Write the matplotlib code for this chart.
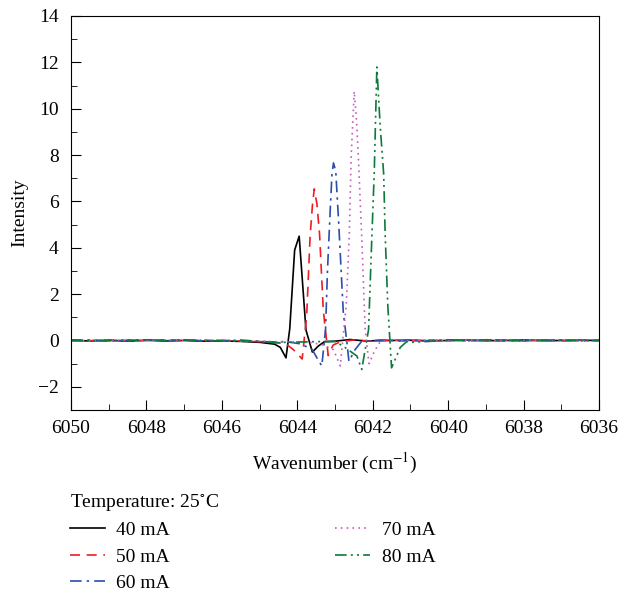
import matplotlib
matplotlib.use('Agg')
import matplotlib.pyplot as plt

# baseline wavenumbers shared by every trace (outside the peak region)
wn_left = [6050.0, 6049.5, 6049.0, 6048.5, 6048.0, 6047.5, 6047.0, 6046.5, 6046.0, 6045.5, 6045.0, 6044.6]
wn_right = [6041.0, 6040.5, 6040.0, 6039.5, 6039.0, 6038.5, 6038.0, 6037.5, 6037.0, 6036.5, 6036.0]

# 40 mA
left_40 = [0.0, -0.02, 0.01, -0.03, 0.01, -0.02, 0.0, -0.03, -0.02, -0.04, -0.08, -0.16]
pk_x_40 = [6044.45, 6044.3, 6044.2, 6044.07, 6043.95, 6043.77, 6043.6, 6043.45, 6043.28, 6043.0, 6042.6, 6042.2, 6041.6]
pk_y_40 = [-0.3, -0.75, 0.5, 3.9, 4.5, 0.45, -0.5, -0.25, -0.05, -0.03, 0.04, -0.02, 0.0]
right_40 = [0.01, -0.02, 0.0, 0.02, -0.01, 0.0, 0.02, -0.01, 0.0, 0.01, 0.0]

# 50 mA
left_50 = [0.02, -0.01, 0.03, -0.02, 0.0, 0.03, -0.01, 0.02, -0.03, -0.02, -0.05, -0.08]
pk_x_50 = [6044.3, 6044.1, 6043.87, 6043.75, 6043.66, 6043.6, 6043.55, 6043.48, 6043.41, 6043.31, 6043.18, 6043.05, 6042.85, 6042.5, 6042.0, 6041.5]
pk_y_50 = [-0.15, -0.4, -0.8, 1.1, 4.5, 5.8, 6.54, 5.9, 4.6, 1.3, -0.65, -0.2, -0.05, 0.02, -0.03, 0.02]
right_50 = [-0.02, 0.02, -0.01, 0.03, 0.0, -0.02, 0.02, 0.0, -0.02, 0.01, 0.0]

# 60 mA
left_60 = [-0.01, 0.02, -0.02, 0.01, 0.03, -0.01, 0.02, -0.02, 0.01, -0.03, -0.04, -0.07]
pk_x_60 = [6044.3, 6043.9, 6043.6, 6043.48, 6043.35, 6043.25, 6043.2, 6043.13, 6043.08, 6043.04, 6042.98, 6042.9, 6042.78, 6042.69, 6042.63, 6042.47, 6042.3, 6041.8, 6041.3]
pk_y_60 = [-0.05, -0.15, -0.4, -0.75, -1.1, 0.5, 3.0, 5.5, 7.2, 7.66, 7.3, 5.0, 1.2, 0.0, -0.9, -0.4, -0.05, 0.02, -0.02]
right_60 = [0.02, -0.01, 0.03, -0.02, 0.01, 0.02, -0.02, 0.01, 0.02, -0.01, 0.0]

# 70 mA
left_70 = [0.01, -0.02, 0.02, 0.0, -0.02, 0.02, 0.01, -0.01, 0.02, -0.02, -0.03, -0.05]
pk_x_70 = [6044.2, 6043.6, 6043.3, 6043.04, 6042.86, 6042.7, 6042.62, 6042.57, 6042.49, 6042.43, 6042.38, 6042.29, 6042.2, 6042.1, 6041.95, 6041.8, 6041.4]
pk_y_70 = [-0.05, -0.1, -0.2, -0.4, -1.1, 1.6, 4.6, 8.0, 10.75, 9.5, 7.9, 4.4, 0.5, -1.0, -0.45, -0.05, 0.03]
right_70 = [-0.03, 0.01, -0.02, 0.02, 0.0, -0.02, 0.01, 0.02, -0.01, 0.0, 0.0]

# 80 mA
left_80 = [0.02, 0.0, -0.02, 0.02, 0.01, -0.01, 0.03, 0.0, -0.02, 0.02, -0.04, -0.1]
pk_x_80 = [6044.3, 6043.5, 6043.0, 6042.78, 6042.42, 6042.29, 6042.11, 6042.02, 6041.96, 6041.89, 6041.8, 6041.71, 6041.67, 6041.6, 6041.5, 6041.27, 6041.1]
pk_y_80 = [-0.08, -0.05, -0.05, -0.25, -0.67, -1.25, 0.47, 4.6, 7.2, 11.8, 9.2, 7.2, 4.6, 1.5, -1.18, -0.3, -0.05]
right_80 = [-0.08, -0.04, 0.02, -0.02, 0.03, 0.0, -0.02, 0.02, 0.01, -0.01, 0.0]

labels = ['40 mA', '50 mA', '60 mA', '70 mA', '80 mA']

plt.rcParams['font.family'] = ['Liberation Serif', 'DejaVu Serif']
plt.rcParams['mathtext.fontset'] = 'stix'
plt.rcParams['font.size'] = 14

fig = plt.figure(figsize=(6.34, 5.95), dpi=100)
ax = fig.add_axes([71 / 634, 1 - 410 / 595, 528 / 634, 394 / 595])

traces = [
    (left_40, pk_x_40, pk_y_40, right_40, 'black', '-'),
    (left_50, pk_x_50, pk_y_50, right_50, '#ee1c25', (0, (6, 4))),
    (left_60, pk_x_60, pk_y_60, right_60, '#2a4fa8', (0, (7, 3, 1.5, 3))),
    (left_70, pk_x_70, pk_y_70, right_70, '#c55cc0', (0, (1, 2.5))),
    (left_80, pk_x_80, pk_y_80, right_80, '#0b7a3b', (0, (7, 2.5, 1.2, 2.5, 1.2, 2.5))),
]

for (yl, px, py, yr, col, ls), lab in zip(traces, labels):
    xs = wn_left + px + wn_right
    ys = yl + py + yr
    ax.plot(xs, ys, color=col, linestyle=ls, linewidth=1.2, label=lab)

ax.set_xlim(6050, 6036)
ax.set_ylim(-3, 14)
ax.set_xticks(range(6050, 6035, -2))
ax.set_xticks(range(6049, 6036, -2), minor=True)
ax.set_yticks(range(-2, 15, 2))
ax.set_yticks(range(-3, 14, 2), minor=True)
ax.tick_params(which='both', direction='in', top=False, right=False, labelsize=14)
ax.tick_params(which='major', length=7)
ax.tick_params(which='minor', length=4)
ax.tick_params(axis='x', which='major', pad=7)
ax.tick_params(axis='y', which='major', pad=9)

ax.set_xlabel('Wavenumber (cm$^{-1}$)', fontsize=14, labelpad=10)
ax.set_ylabel('Intensity', fontsize=14, labelpad=7)

fig.legend(loc='upper left', bbox_to_anchor=(62 / 634, 1 - 484 / 595), ncol=2,
           title='Temperature: 25$^{\\circ}$C', title_fontsize=14, alignment='left',
           frameon=False, fontsize=14, handlelength=1.8, handletextpad=0.6,
           columnspacing=8.5, labelspacing=0.45, borderaxespad=0)

fig.savefig('out.png', dpi=100)
